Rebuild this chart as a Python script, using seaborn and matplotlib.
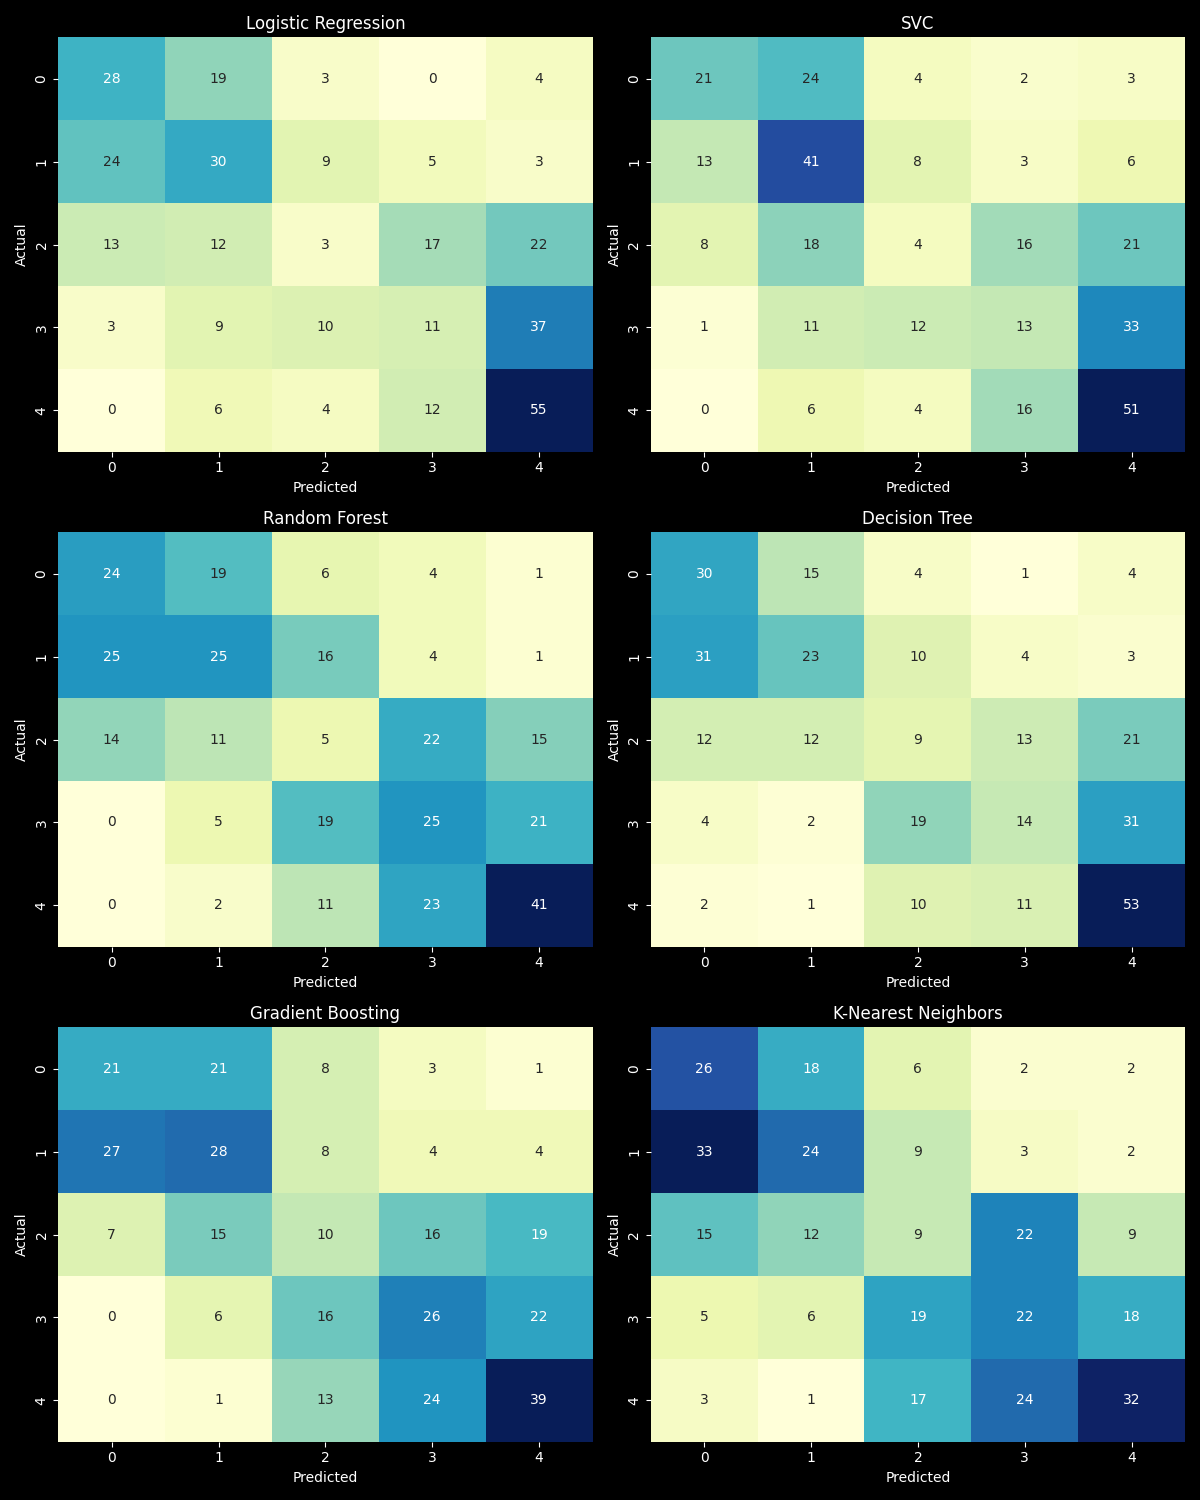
import numpy as np
import matplotlib.pyplot as plt
import seaborn as sns

plt.style.use("dark_background")

model_names = ["Logistic Regression", "SVC", "Random Forest",
               "Decision Tree", "Gradient Boosting", "K-Nearest Neighbors"]
class_labels = ["0", "1", "2", "3", "4"]

cm_logreg = [[28, 19, 3, 0, 4],
             [24, 30, 9, 5, 3],
             [13, 12, 3, 17, 22],
             [3, 9, 10, 11, 37],
             [0, 6, 4, 12, 55]]
cm_svc = [[21, 24, 4, 2, 3],
          [13, 41, 8, 3, 6],
          [8, 18, 4, 16, 21],
          [1, 11, 12, 13, 33],
          [0, 6, 4, 16, 51]]
cm_rf = [[24, 19, 6, 4, 1],
         [25, 25, 16, 4, 1],
         [14, 11, 5, 22, 15],
         [0, 5, 19, 25, 21],
         [0, 2, 11, 23, 41]]
cm_dt = [[30, 15, 4, 1, 4],
         [31, 23, 10, 4, 3],
         [12, 12, 9, 13, 21],
         [4, 2, 19, 14, 31],
         [2, 1, 10, 11, 53]]
cm_gb = [[21, 21, 8, 3, 1],
         [27, 28, 8, 4, 4],
         [7, 15, 10, 16, 19],
         [0, 6, 16, 26, 22],
         [0, 1, 13, 24, 39]]
cm_knn = [[26, 18, 6, 2, 2],
          [33, 24, 9, 3, 2],
          [15, 12, 9, 22, 9],
          [5, 6, 19, 22, 18],
          [3, 1, 17, 24, 32]]

matrices = [cm_logreg, cm_svc, cm_rf, cm_dt, cm_gb, cm_knn]

fig, axes = plt.subplots(3, 2, figsize=(12, 15))
for ax, name, cm in zip(axes.flat, model_names, matrices):
    sns.heatmap(np.array(cm), annot=True, fmt="d", cmap="YlGnBu", cbar=False,
                xticklabels=class_labels, yticklabels=class_labels, ax=ax)
    ax.set_title(name, fontsize=12)
    ax.set_xlabel("Predicted")
    ax.set_ylabel("Actual")

plt.tight_layout()
plt.savefig("out.png", dpi=100)
